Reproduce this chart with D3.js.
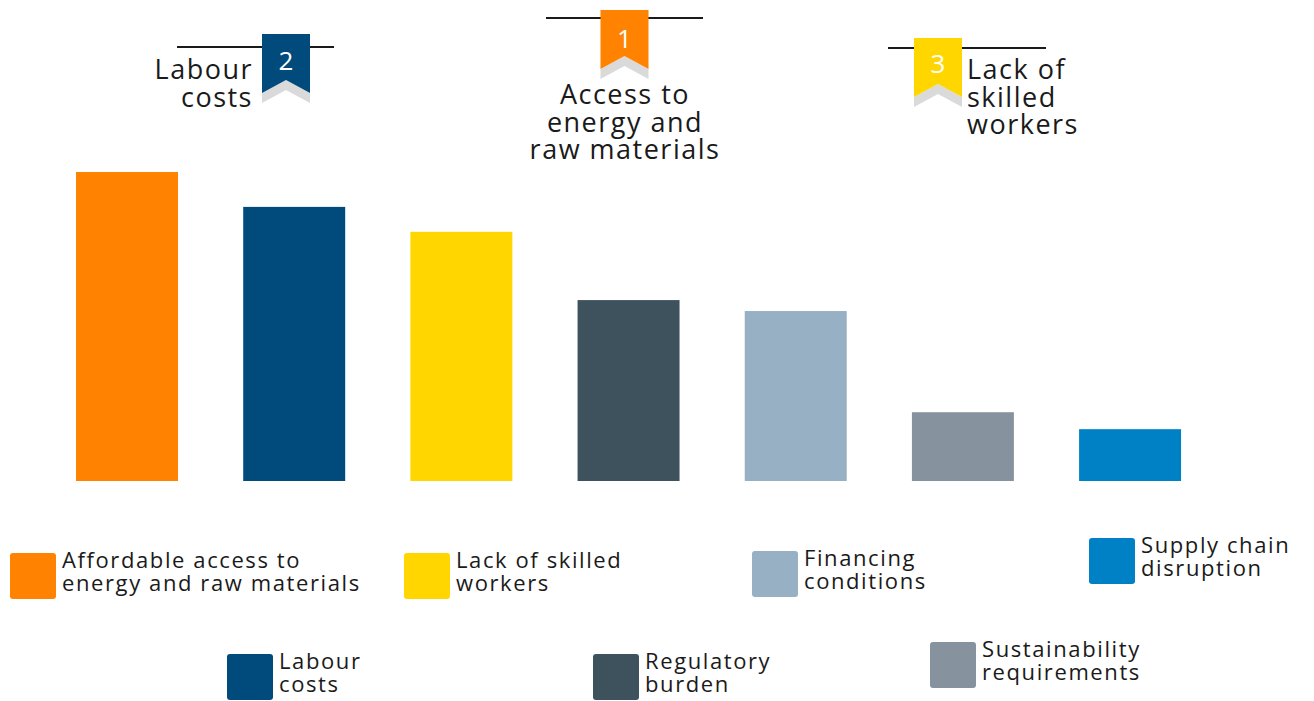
<!DOCTYPE html>
<html>
<head>
<meta charset="utf-8">
<script src="https://cdn.jsdelivr.net/npm/d3@7/dist/d3.min.js"></script>
<style>
  html, body { margin: 0; padding: 0; background: #ffffff; }
  svg { display: block; }
  text { font-family: "Open Sans", "Noto Sans", sans-serif; fill: #1a1a1a; }
</style>
</head>
<body>
<svg id="chart" width="1314" height="701"></svg>
<script>
// ---- data ----
const categories = [
  "Affordable access to energy and raw materials",
  "Labour costs",
  "Lack of skilled workers",
  "Regulatory burden",
  "Financing conditions",
  "Sustainability requirements",
  "Supply chain disruption"
];
const values = [62, 55, 50, 36.3, 34.1, 13.8, 10.4];
const colors = ["#FF8200", "#004A7C", "#FFD600", "#3D525C", "#97B0C4", "#86929D", "#0080C5"];
const legendLines = [
  ["Affordable access to", "energy and raw materials"],
  ["Labour", "costs"],
  ["Lack of skilled", "workers"],
  ["Regulatory", "burden"],
  ["Financing", "conditions"],
  ["Sustainability", "requirements"],
  ["Supply chain", "disruption"]
];
const rankNumbers = ["1", "2", "3"];
const rankLabels = [
  ["Access to", "energy and", "raw materials"],
  ["Labour", "costs"],
  ["Lack of", "skilled", "workers"]
];
const rankCategoryIndex = [0, 1, 2];

// ---- layout (not data) ----
const legendLayout = [
  {x: 10, y: 553}, {x: 227, y: 654}, {x: 404, y: 553}, {x: 593, y: 654},
  {x: 752, y: 551}, {x: 930, y: 642}, {x: 1089, y: 538}
];
const badgeLayout = [
  {cx: 624.5, top: 10, lineY: 18, lineX0: 546, lineX1: 703, numY: 48, textAnchor: "middle", tx: 625, ty: 104},
  {cx: 286, top: 34, lineY: 47, lineX0: 177, lineX1: 334, numY: 70, textAnchor: "end", tx: 253, ty: 79},
  {cx: 938, top: 38, lineY: 48, lineX0: 888, lineX1: 1046, numY: 73, textAnchor: "start", tx: 967, ty: 79}
];

const svg = d3.select("#chart");

const x = d3.scaleBand()
  .domain(categories)
  .range([42.6, 1214.5])
  .paddingInner(0.39)
  .paddingOuter(0.2);

const y = d3.scaleLinear()
  .domain([0, 62])
  .range([481, 172]);

// bars
svg.append("g").selectAll("rect")
  .data(categories)
  .join("rect")
  .attr("x", d => x(d))
  .attr("width", x.bandwidth())
  .attr("y", (d, i) => y(values[i]))
  .attr("height", (d, i) => y(0) - y(values[i]))
  .attr("fill", (d, i) => colors[i]);

// legend
const lg = svg.append("g").selectAll("g")
  .data(categories)
  .join("g")
  .attr("transform", (d, i) => `translate(${legendLayout[i].x},${legendLayout[i].y})`);

lg.append("rect")
  .attr("width", 46).attr("height", 46).attr("rx", 3)
  .attr("fill", (d, i) => colors[i]);

lg.each(function(d, i) {
  d3.select(this).selectAll("text")
    .data(legendLines[i])
    .join("text")
    .attr("x", 52)
    .attr("y", (t, j) => 15 + j * 23)
    .attr("font-size", 22)
    .attr("letter-spacing", 1.6)
    .text(t => t);
});

// rank badges
const W = 48, H = 59, N = 13, G = 10;
const bg = svg.append("g").selectAll("g")
  .data(rankNumbers)
  .join("g");

bg.each(function(num, i) {
  const g = d3.select(this);
  const b = badgeLayout[i];
  const c = colors[rankCategoryIndex[i]];
  g.append("line")
    .attr("x1", b.lineX0).attr("x2", b.lineX1)
    .attr("y1", b.lineY).attr("y2", b.lineY)
    .attr("stroke", "#1a1a1a").attr("stroke-width", 2);
  const l = b.cx - W / 2, r = b.cx + W / 2, t = b.top;
  g.append("path")
    .attr("d", `M${l},${t + H}L${b.cx},${t + H - N}L${r},${t + H}L${r},${t + H + G}L${b.cx},${t + H - N + G}L${l},${t + H + G}Z`)
    .attr("fill", "#DADADA");
  g.append("path")
    .attr("d", `M${l},${t}L${r},${t}L${r},${t + H}L${b.cx},${t + H - N}L${l},${t + H}Z`)
    .attr("fill", c);
  g.append("text")
    .attr("x", b.cx).attr("y", b.numY)
    .attr("text-anchor", "middle")
    .attr("font-size", 26).attr("font-weight", 500)
    .style("fill", "#ffffff")
    .text(num);
  g.selectAll("text.rank-label")
    .data(rankLabels[i])
    .join("text")
    .attr("class", "rank-label")
    .attr("text-anchor", b.textAnchor)
    .attr("font-size", 27)
    .attr("letter-spacing", 1.5)
    .attr("x", b.tx)
    .attr("y", (s, j) => b.ty + j * 27.5)
    .text(s => s);
});
</script>
</body>
</html>
